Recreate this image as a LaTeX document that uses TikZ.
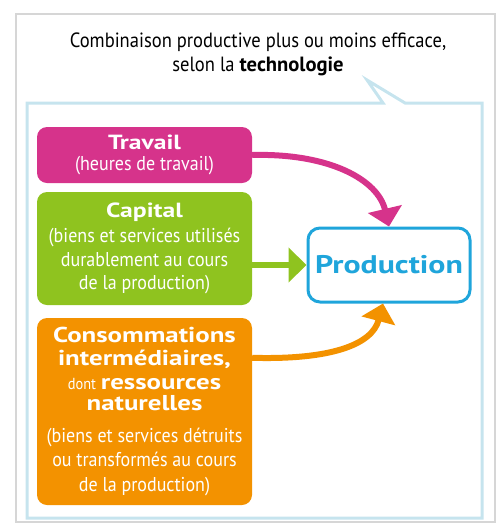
\documentclass[tikz,border=0pt]{standalone}
\usepackage{fontspec}
\setmainfont{PT Sans}[FakeStretch=0.9, BoldFeatures={FakeStretch=1.0}]
\newfontfamily\widefont{PT Sans}[FakeStretch=1.25]
\usetikzlibrary{arrows.meta}
\definecolor{PFMagenta}{HTML}{D6338B}
\definecolor{PFGreen}{HTML}{8FC31F}
\definecolor{PFOrange}{HTML}{F39200}
\definecolor{PFBlue}{HTML}{1FA5DB}
\definecolor{PFFrame}{HTML}{C6E4EE}
\definecolor{PFGrey}{HTML}{D6D6D6}
\tikzset{
  factor/.style={rounded corners=10pt, text=white, align=center, inner sep=0pt,
    minimum width=215pt, font=\fontsize{20}{23.5}\selectfont},
  flow/.style={line width=6pt, -{Triangle[length=18pt,width=34pt]}},
}
\newcommand{\bigbf}[1]{{\widefont\fontsize{20.5}{23.5}\selectfont\bfseries #1}}
\newcommand{\midbf}[1]{{\widefont\fontsize{21.5}{24}\selectfont\bfseries #1}}

\begin{document}
\begin{tikzpicture}[x=1pt,y=-1pt]
\path[use as bounding box] (0,0) rectangle (501,523);
\draw[PFGrey, line width=2pt] (16,14) rectangle (495,522);
\draw[PFFrame, line width=3pt] (383,103) -- (367,80) -- (405,103) -- (482,103) -- (482,518) -- (27,518) -- (27,103) -- cycle;
\node[align=center, font=\fontsize{20.6}{24}\selectfont] (title) at (258,54) {Combinaison productive plus ou moins efficace,\\selon la \textbf{technologie}};
\node[factor, fill=PFMagenta, minimum height=56pt] (trav) at (144.5,155) {\bigbf{Travail}\\[-2.5pt](heures de travail)};
\node[factor, fill=PFGreen, minimum height=113pt] (cap) at (144.5,248.5) {\bigbf{Capital}\\[1.5pt](biens et services utilisés\\durablement au cours\\de la production)};
\node[factor, fill=PFOrange, minimum height=187pt] (cons) at (144.5,411.5) {\midbf{Consommations}\\\midbf{intermédiaires,}\\{\fontsize{16}{24}\selectfont dont} \midbf{ressources}\\[-2pt]\midbf{naturelles}\\[8pt](biens et services détruits\\[1pt]ou transformés au cours\\[1pt]de la production)};
\node[draw=PFBlue, line width=3pt, rounded corners=12pt, fill=white, text=PFBlue,
  minimum width=162pt, minimum height=74pt, font=\widefont\fontsize{25.5}{28}\selectfont\bfseries] (prod) at (389,265) {Production};
\draw[flow, PFMagenta] (trav.east) .. controls (330,153) and (378,180) .. (prod.north);
\draw[flow, PFGreen] (cap.east |- prod.west) -- (prod.west);
\draw[flow, PFOrange] ([yshift=-40pt]cons.north east) .. controls (330,360) and (372,345) .. ([xshift=-6pt]prod.south);
\end{tikzpicture}
\end{document}
